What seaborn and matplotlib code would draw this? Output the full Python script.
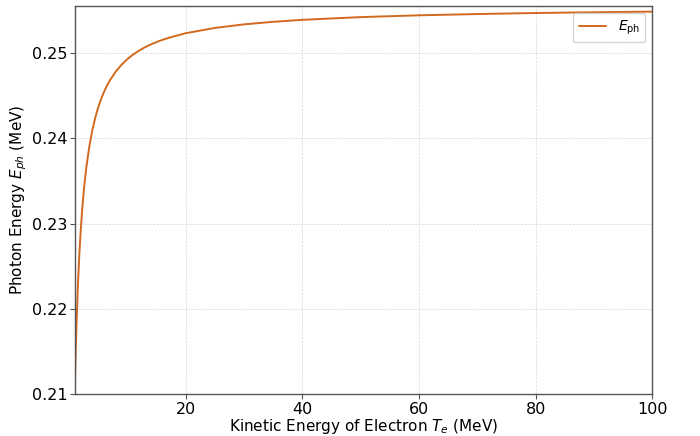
import numpy as np
import pandas as pd
import seaborn as sns
import matplotlib.pyplot as plt

# kinetic energy of electron (MeV) and photon energy (MeV)
t_e = [1, 1.1, 1.25, 1.5, 1.75, 2, 2.25, 2.5, 2.75, 3, 3.5, 4, 4.5, 5, 5.5,
       6, 6.5, 7, 8, 9, 10, 11, 12, 13, 14, 15.5, 17,
       20, 25, 30, 35, 40, 50, 60, 70, 80, 90, 100]
e_ph = [0.21099, 0.21391, 0.21762, 0.22250, 0.22625, 0.22922, 0.23165,
        0.23366, 0.23536, 0.23681, 0.23916, 0.24098, 0.24244, 0.24363,
        0.24462, 0.24546, 0.24618, 0.24680, 0.24782, 0.24863, 0.24929,
        0.24983, 0.25028, 0.25067, 0.25100, 0.25142, 0.25177,
        0.25232, 0.25294, 0.25336, 0.25366, 0.25389, 0.25421, 0.25442,
        0.25457, 0.25469, 0.25478, 0.25485]

df = pd.DataFrame({"T_e": t_e, "E_ph": e_ph})

sns.set_style("white")
plt.rcParams["font.family"] = ["DejaVu Sans"]
plt.rcParams["text.color"] = "black"
plt.rcParams["axes.labelcolor"] = "black"

fig, ax = plt.subplots(figsize=(7, 4.36), dpi=100)
fig.subplots_adjust(left=0.107, right=0.932, top=0.986, bottom=0.096)

sns.lineplot(data=df, x="T_e", y="E_ph", ax=ax, color="#d2691e",
             linewidth=1.4, label=r"$E_{\mathrm{ph}}$")

ax.set_xlim(1, 100)
ax.set_ylim(0.21, 0.2555)
ax.set_xticks([20, 40, 60, 80, 100])
ax.set_yticks([0.21, 0.22, 0.23, 0.24, 0.25])

ax.grid(True, linestyle="--", color="#d8d8d8", linewidth=0.5)
for s in ax.spines.values():
    s.set_color("#555555")
    s.set_linewidth(1.0)
ax.tick_params(axis="both", labelsize=11.5, length=3.5, width=0.8,
               color="#555555", labelcolor="black", direction="out",
               left=True, bottom=True, pad=2)

ax.set_xlabel(r"Kinetic Energy of Electron $T_e$ (MeV)", fontsize=11, labelpad=0.5)
ax.set_ylabel(r"Photon Energy $E_{ph}$ (MeV)", fontsize=11, labelpad=2)

ax.legend(loc="upper right", fontsize=10, frameon=True)

plt.savefig("out.png")
